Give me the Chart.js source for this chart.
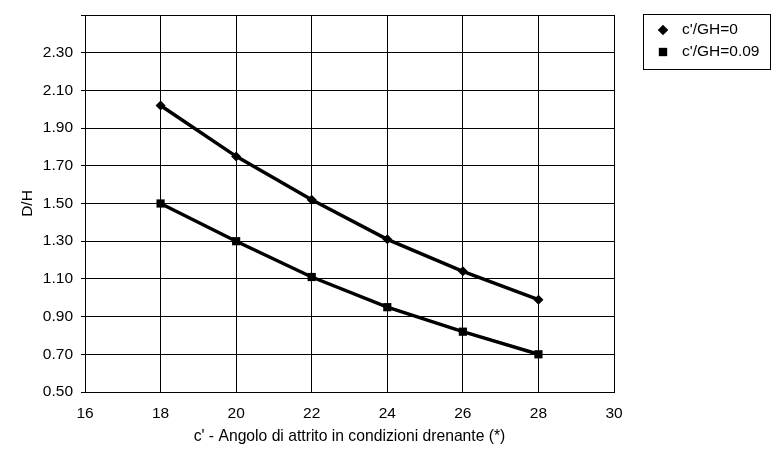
<!DOCTYPE html>
<html>
<head>
<meta charset="utf-8">
<script src="https://cdn.jsdelivr.net/npm/chart.js@4.4.0/dist/chart.umd.min.js"></script>
<style>
  html, body { margin: 0; padding: 0; background: #fff; }
  #wrap { width: 772px; height: 453px; }
</style>
</head>
<body>
<div id="wrap"><canvas id="myChart"></canvas></div>
<script>
// angoli di attrito (x) e valori D/H
const angles = [18, 20, 22, 24, 26, 28]
const dhC0 = [2.02, 1.75, 1.52, 1.31, 1.14, 0.99]
const dhC009 = [1.50, 1.30, 1.11, 0.95, 0.82, 0.70]
const labelC0 = "c'/GH=0"
const labelC009 = "c'/GH=0.09"

const fontFam = '"Liberation Sans", Arial, sans-serif'

function toPoints(xs, ys) {
    return xs.map((x, i) => ({ x: x, y: ys[i] }))
}

// legenda con riquadro, come nell'originale
const boxLegend = {
    id: 'boxLegend',
    afterDraw(chart) {
        const ctx = chart.ctx
        ctx.save()
        ctx.strokeStyle = '#000'
        ctx.lineWidth = 1
        ctx.strokeRect(643.5, 14.5, 127, 55)
        ctx.font = '15.5px ' + fontFam
        ctx.textBaseline = 'middle'
        chart.data.datasets.forEach((ds, i) => {
            const y = 30 + i * 22
            Chart.helpers.drawPoint(ctx, {
                pointStyle: ds.pointStyle,
                radius: ds.pointRadius,
                rotation: 0,
                borderWidth: 0
            }, 663, y)
            ctx.fillStyle = '#000'
            ctx.fill()
            ctx.fillText(ds.label, 682, y)
        })
        ctx.restore()
    }
}

var ctx = document.getElementById('myChart').getContext('2d')
var myChart = new Chart(ctx, {
    type: 'scatter',
    data: {
        datasets: [{
            label: labelC0,
            data: toPoints(angles, dhC0),
            showLine: true,
            borderColor: '#000',
            backgroundColor: '#000',
            borderWidth: 3.5,
            pointStyle: 'rectRot',
            pointRadius: 5,
            pointBorderWidth: 0,
            tension: 0
        }, {
            label: labelC009,
            data: toPoints(angles, dhC009),
            showLine: true,
            borderColor: '#000',
            backgroundColor: '#000',
            borderWidth: 3.5,
            pointStyle: 'rect',
            pointRadius: 5.8,
            pointBorderWidth: 0,
            tension: 0
        }]
    },
    options: {
        responsive: true,
        maintainAspectRatio: false,
        animation: false,
        layout: {
            padding: { left: 18, right: 158, top: 15, bottom: 7 }
        },
        plugins: {
            legend: { display: false },
            tooltip: { enabled: false }
        },
        scales: {
            x: {
                type: 'linear',
                min: 16,
                max: 30,
                afterFit: function (scale) {
                    scale.height = 54
                },
                ticks: {
                    stepSize: 2,
                    color: '#000',
                    padding: 12,
                    font: { family: fontFam, size: 15.5 }
                },
                grid: { color: '#000', lineWidth: 1, drawTicks: false },
                border: { color: '#000', width: 1 },
                title: {
                    display: true,
                    text: "c' - Angolo di attrito in condizioni drenante (*)",
                    color: '#000',
                    font: { family: fontFam, size: 15.7 },
                    padding: { top: 0, bottom: 0 }
                }
            },
            y: {
                min: 0.5,
                max: 2.5,
                afterFit: function (scale) {
                    scale.width = 67
                    scale.paddingTop = 0
                    scale.paddingBottom = 0
                },
                ticks: {
                    stepSize: 0.2,
                    color: '#000',
                    padding: 8,
                    font: { family: fontFam, size: 15.5 },
                    callback: function (v) {
                        if (Math.abs(v - 2.5) < 0.001) return ''
                        return Number(v).toFixed(2)
                    }
                },
                grid: { color: '#000', lineWidth: 1, drawTicks: true, tickLength: 4 },
                border: { color: '#000', width: 1 },
                title: {
                    display: true,
                    text: 'D/H',
                    color: '#000',
                    font: { family: fontFam, size: 15.5 },
                    padding: { top: 0, bottom: 0 }
                }
            }
        }
    },
    plugins: [boxLegend]
})
</script>
</body>
</html>
